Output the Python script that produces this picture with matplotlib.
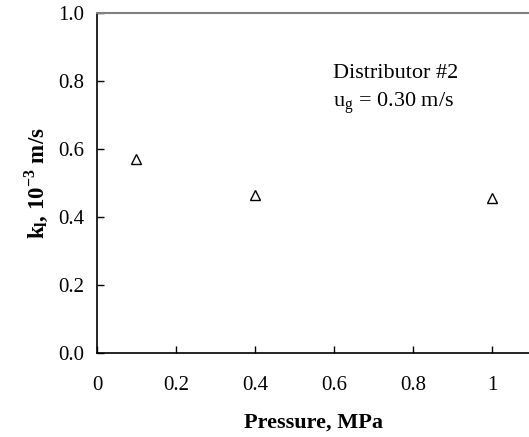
import matplotlib
matplotlib.use('Agg')
import matplotlib.pyplot as plt

# data
pressure = [0.1, 0.4, 1.0]
kl = [0.57, 0.465, 0.456]
xticks = [0, 0.2, 0.4, 0.6, 0.8, 1.0]
xticklabels = ['0', '0.2', '0.4', '0.6', '0.8', '1']
yticks = [0.0, 0.2, 0.4, 0.6, 0.8, 1.0]

plt.rcParams['font.family'] = 'Liberation Serif'
plt.rcParams['font.size'] = 15
plt.rcParams['mathtext.fontset'] = 'custom'
plt.rcParams['mathtext.rm'] = 'Liberation Serif'
plt.rcParams['mathtext.bf'] = 'Liberation Serif:bold'

fig = plt.figure(figsize=(5.29, 4.37), dpi=100)
ax = fig.add_axes([97/529, 84/437, 1 - 97/529, (353-13)/437])

ax.plot(pressure, kl, linestyle='none', marker='^', markersize=7,
        markerfacecolor='white', markeredgecolor='black', markeredgewidth=1)

ax.set_xlim(0, 1.094)
ax.set_ylim(0, 1.0)
ax.set_xticks(xticks)
ax.set_xticklabels(xticklabels)
ax.set_yticks(yticks)
ax.set_yticklabels(['{:.1f}'.format(v) for v in yticks])
ax.tick_params('both', direction='in', length=5, width=1, labelsize=15)
ax.tick_params('x', pad=16.5)
ax.tick_params('y', pad=9)
ax.spines['right'].set_visible(False)
ax.spines['top'].set_color('#808080')
ax.spines['top'].set_linewidth(1.5)
ax.spines['left'].set_linewidth(1.2)
ax.spines['bottom'].set_linewidth(1.2)

ax.set_xlabel('Pressure, MPa', fontweight='bold', fontsize=16, labelpad=13)
ax.set_ylabel(r'$\mathbf{k_l}$, 10$^{\mathbf{-3}}$ m/s', fontweight='bold',
              fontsize=16.5, labelpad=6)

ax.text(0.597, 0.809, 'Distributor #2', va='baseline', ha='left', fontsize=16)
ax.text(0.597, 0.722, r'u$_\mathrm{g}$ = 0.30 m/s', va='baseline', ha='left', fontsize=16)

plt.savefig('out.png', dpi=100)
